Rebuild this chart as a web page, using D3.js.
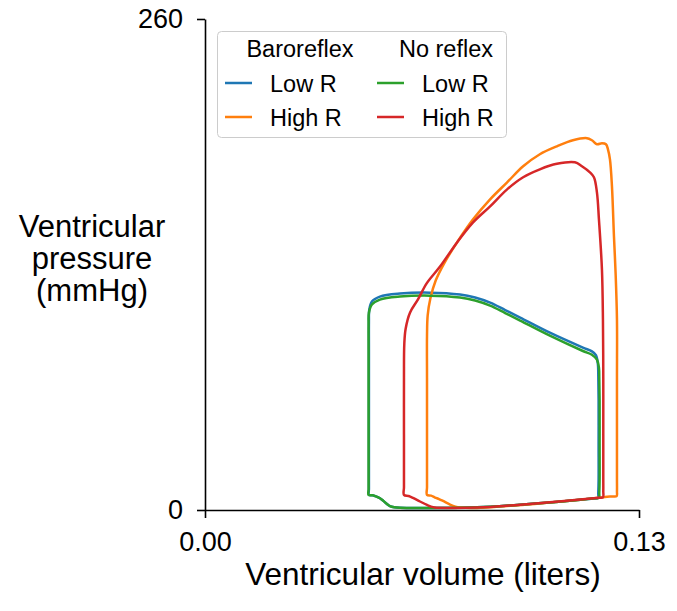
<!DOCTYPE html>
<html>
<head>
<meta charset="utf-8">
<script src="https://cdn.jsdelivr.net/npm/d3@7"></script>
<style>
  html, body { margin: 0; padding: 0; background: #fff; }
  svg { display: block; font-family: "Liberation Sans", Arial, sans-serif; }
</style>
</head>
<body>
<svg id="chart" width="677" height="611"></svg>
<script>
// ---- Data (volume in liters, pressure in mmHg) ----
const xTicks = [0, 0.13];
const yTicks = [0, 260];
const xTickLabels = ["0.00", "0.13"];
const yTickLabels = ["0", "260"];

const baroLowR = [
  [0.0491, 8.0], [0.0502, 7.8], [0.0512, 7.2], [0.0524, 6.2], [0.0533, 5.0], [0.0545, 3.2],
  [0.0554, 2.1], [0.0567, 1.5], [0.0584, 1.2],
  [0.0674, 1.1], [0.0815, 1.4], [0.0935, 2.7], [0.1033, 4.0], [0.1132, 5.6],
  [0.1165, 6.1], [0.1177, 6.4], [0.1178, 9], [0.1179, 16], [0.1179, 35], [0.1179, 58],
  [0.1178, 72], [0.1177, 77], [0.1171, 82],
  [0.1159, 84], [0.1132, 86], [0.1033, 93.9], [0.0944, 101.9], [0.0899, 105.9],
  [0.0854, 109.8], [0.0809, 112.5], [0.0764, 114.1], [0.0674, 115.1], [0.0584, 114.6],
  [0.0524, 113], [0.0500, 110.4],
  [0.0492, 106], [0.0491, 100], [0.0491, 85], [0.0491, 55], [0.0491, 30],
  [0.0491, 16], [0.0491, 11]
];
const baroHighR = [
  [0.0665, 8.0], [0.0677, 7.6], [0.0689, 6.6], [0.0701, 5.8], [0.0713, 4.8], [0.0734, 2.9],
  [0.0750, 1.8], [0.0764, 1.3],
  [0.0815, 1.1], [0.0935, 2.5], [0.1033, 4.0], [0.1132, 5.6], [0.1198, 6.9],
  [0.1222, 7.2], [0.1233, 7.4], [0.1234, 10], [0.1234, 17], [0.1234, 40], [0.1234, 70],
  [0.1234, 100.8], [0.1230, 125], [0.1225, 144.9], [0.1219, 171.4],
  [0.1213, 185.7], [0.1207, 191], [0.1201, 193.7], [0.1189, 194.2], [0.1174, 193.7],
  [0.1159, 195.8], [0.1144, 196.9], [0.1102, 195.8], [0.1054, 192.6], [0.1003, 188.4],
  [0.0953, 182], [0.0905, 173.5], [0.0854, 164.5], [0.0803, 153.9], [0.0755, 141.7],
  [0.0716, 130.5], [0.0691, 121.5], [0.0675, 112], [0.0667, 103], [0.0665, 92],
  [0.0665, 70], [0.0665, 40], [0.0665, 20], [0.0665, 12]
];
const noLowR = [
  [0.0490, 8.0], [0.0502, 7.8], [0.0512, 7.2], [0.0524, 6.2], [0.0533, 5.0], [0.0545, 3.2],
  [0.0554, 2.1], [0.0567, 1.5], [0.0584, 1.2],
  [0.0674, 1.1], [0.0815, 1.4], [0.0935, 2.7], [0.1033, 4.0], [0.1132, 5.6],
  [0.1168, 6.2], [0.1180, 6.4], [0.1181, 9], [0.1182, 16], [0.1182, 35], [0.1182, 58],
  [0.1181, 70], [0.1180, 75.3], [0.1174, 79.6],
  [0.1159, 82.2], [0.1132, 84.2], [0.1033, 92.3], [0.0944, 100.3], [0.0899, 104.3],
  [0.0854, 108.2], [0.0809, 110.9], [0.0764, 112.5], [0.0674, 113.5], [0.0584, 113],
  [0.0524, 111.4], [0.0500, 108.8],
  [0.0491, 104.5], [0.0490, 98], [0.0490, 85], [0.0490, 55], [0.0490, 30],
  [0.0490, 16], [0.0490, 11]
];
const noHighR = [
  [0.0596, 8.0], [0.0610, 7.4], [0.0623, 6.4], [0.0644, 4.5], [0.0665, 2.7], [0.0677, 1.8],
  [0.0689, 1.3], [0.0734, 1.1], [0.0815, 1.3], [0.0935, 2.7], [0.1033, 4.1], [0.1132, 5.7],
  [0.1180, 6.5], [0.1192, 6.7], [0.1193, 10], [0.1193, 17], [0.1193, 40], [0.1193, 70],
  [0.1192, 100.8], [0.1189, 127.3], [0.1180, 153.9],
  [0.1174, 168.2], [0.1165, 176.2], [0.1153, 178.8], [0.1129, 182], [0.1108, 184.1],
  [0.1054, 183.3], [0.1003, 180.4], [0.0953, 176.2], [0.0905, 169.8], [0.0854, 160.8],
  [0.0803, 152.3], [0.0755, 141.7], [0.0704, 128.9], [0.0664, 120], [0.0638, 111.5],
  [0.0614, 104.5], [0.0601, 96], [0.0597, 88], [0.0596, 70], [0.0596, 40],
  [0.0596, 20], [0.0596, 12]
];

const series = [
  { name: "Low R",  group: "Baroreflex", color: "#1f77b4", data: baroLowR },
  { name: "High R", group: "Baroreflex", color: "#ff7f0e", data: baroHighR },
  { name: "Low R",  group: "No reflex",  color: "#2ca02c", data: noLowR },
  { name: "High R", group: "No reflex",  color: "#d62728", data: noHighR }
];

// ---- Layout ----
const svg = d3.select("#chart");
const x = d3.scaleLinear().domain([0, 0.13]).range([205, 639]);
const y = d3.scaleLinear().domain([0, 260]).range([510, 19]);

const line = d3.line()
  .x(d => x(d[0])).y(d => y(d[1]))
  .curve(d3.curveCatmullRomClosed.alpha(0.5));

// Loops
svg.append("g").selectAll("path").data(series).join("path")
  .attr("d", d => line(d.data))
  .attr("fill", "none")
  .attr("stroke", d => d.color)
  .attr("stroke-width", 2.5)
  .attr("stroke-linejoin", "round");

// Axes
const xAxis = d3.axisBottom(x).tickValues(xTicks)
  .tickFormat((d, i) => xTickLabels[i]).tickSize(8).tickSizeOuter(0).tickPadding(14);
const yAxis = d3.axisLeft(y).tickValues(yTicks)
  .tickFormat((d, i) => yTickLabels[i]).tickSize(8).tickSizeOuter(0).tickPadding(14);

const gx = svg.append("g").attr("transform", "translate(0,510)").call(xAxis);
const gy = svg.append("g").attr("transform", "translate(205,0)").call(yAxis);
[gx, gy].forEach(g => {
  g.selectAll("path.domain").attr("stroke", "#000").attr("stroke-width", 1.6);
  g.selectAll(".tick line").attr("stroke", "#000").attr("stroke-width", 1.6);
  g.selectAll(".tick text").attr("fill", "#000")
    .style("font-size", "27px").style("font-family", "'Liberation Sans', Arial, sans-serif");
});

// Axis titles
svg.append("text")
  .attr("x", 423).attr("y", 585)
  .attr("text-anchor", "middle")
  .style("font-size", "31.5px")
  .text("Ventricular volume (liters)");

const yLabel = svg.append("text")
  .attr("text-anchor", "middle")
  .style("font-size", "31px");
["Ventricular", "pressure", "(mmHg)"].forEach((t, i) => {
  yLabel.append("tspan").attr("x", 92).attr("y", 237 + i * 32).text(t);
});

// Legend
const lg = svg.append("g");
lg.append("rect")
  .attr("x", 217.5).attr("y", 31.5).attr("width", 289).attr("height", 106)
  .attr("rx", 4).attr("fill", "#fff").attr("fill-opacity", 0.8)
  .attr("stroke", "#cccccc").attr("stroke-width", 1);

const groups = ["Baroreflex", "No reflex"];
const colX = [225, 377];
const headerX = [300, 446];
groups.forEach((gname, gi) => {
  lg.append("text")
    .attr("x", headerX[gi]).attr("y", 57)
    .attr("text-anchor", "middle")
    .style("font-size", "23.5px")
    .text(gname);
  series.filter(s => s.group === gname).forEach((s, ri) => {
    const yy = 83 + ri * 34;
    lg.append("line")
      .attr("x1", colX[gi]).attr("x2", colX[gi] + 27)
      .attr("y1", yy).attr("y2", yy)
      .attr("stroke", s.color).attr("stroke-width", 2.5);
    lg.append("text")
      .attr("x", colX[gi] + 45).attr("y", yy + 8.7)
      .style("font-size", "23.5px")
      .text(s.name);
  });
});
</script>
</body>
</html>
